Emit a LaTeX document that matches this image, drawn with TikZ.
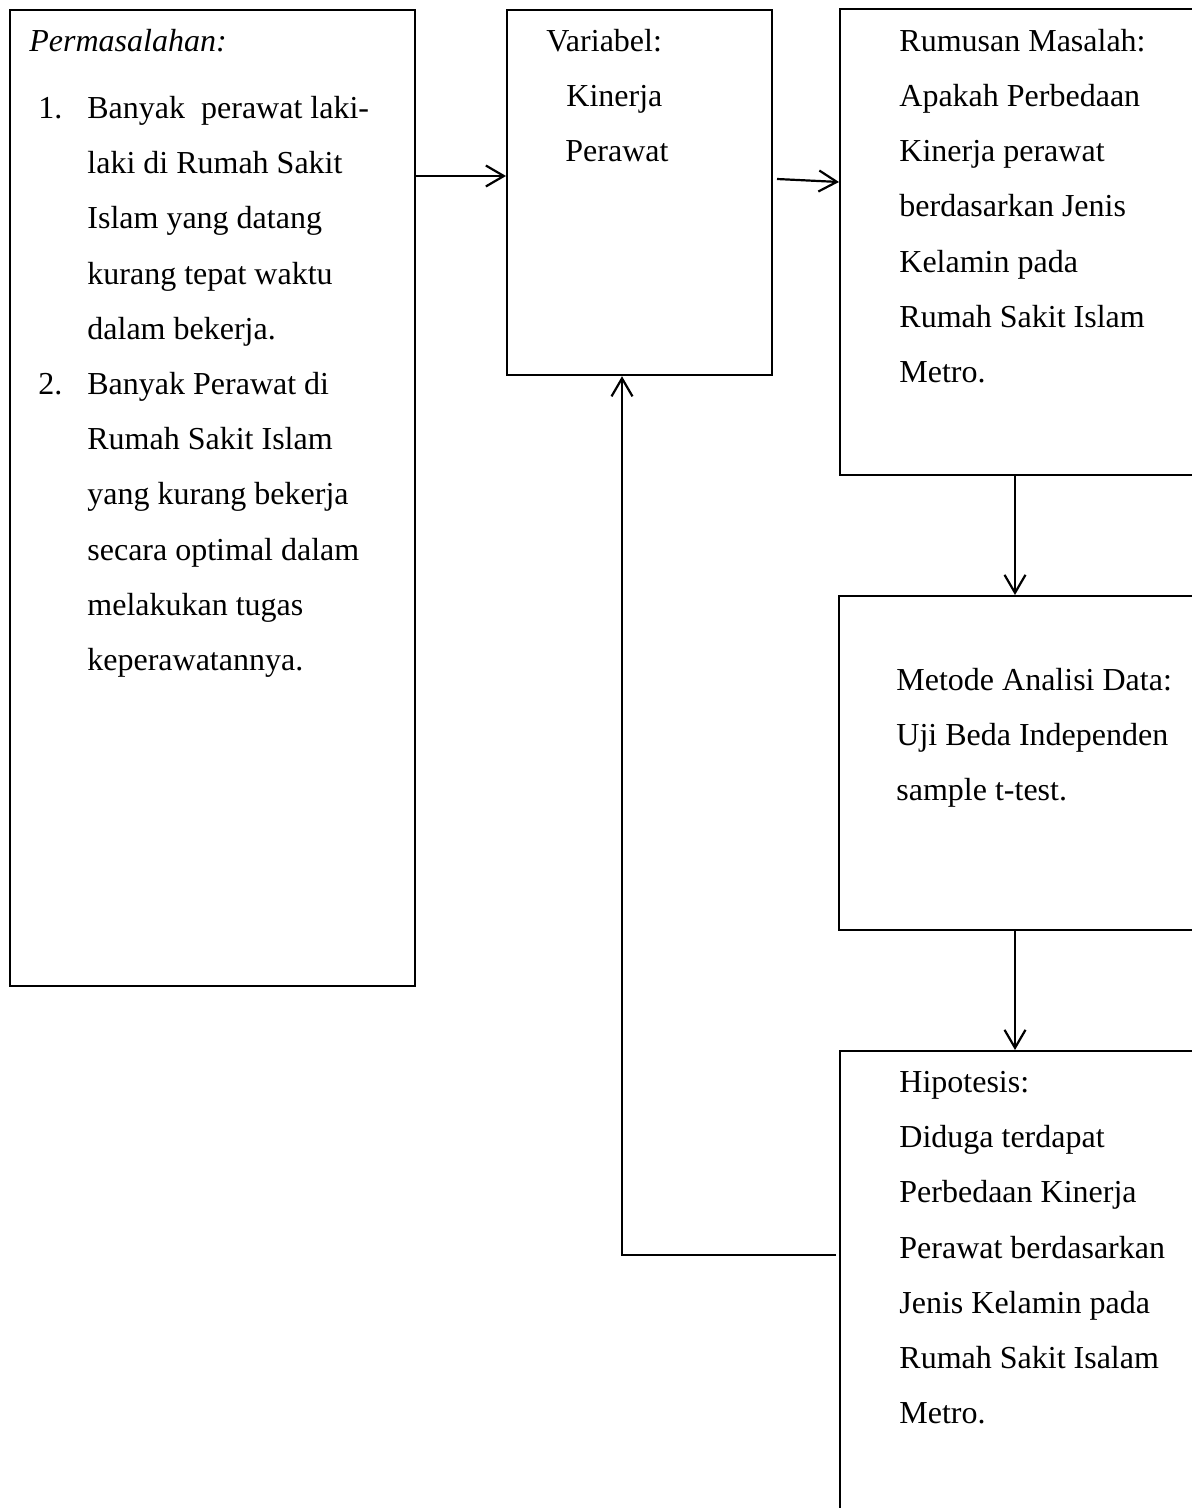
\documentclass[tikz,border=0pt]{standalone}
\usepackage{fontspec}
\setmainfont{Liberation Serif}
\usetikzlibrary{arrows.meta}
\begin{document}
\begin{tikzpicture}[x=0.5pt,y=-0.5pt,
  box/.style={draw,line width=1.1pt,rectangle,inner sep=0pt,anchor=north west},
  txt/.style={anchor=north west,inner sep=0pt,align=left,font=\fontsize{16pt}{27.6pt}\selectfont},
  arr/.style={line width=1.1pt,-{Straight Barb[length=9pt,width=10.5pt,line width=1.1pt]}}]
\useasboundingbox (0,0) rectangle (1192,1508);
\clip (0,0) rectangle (1192,1508);
% boxes
\node[box,minimum width=202.5pt,minimum height=488pt] (p) at (9,9) {};
\node[box,minimum width=132.5pt,minimum height=182.5pt] (v) at (506,9) {};
\node[box,minimum width=200pt,minimum height=233pt] (r) at (839,8) {};
\node[box,minimum width=200pt,minimum height=167pt] (m) at (838,595) {};
\node[box,minimum width=200pt,minimum height=300pt] (h) at (839,1050) {};
% texts
\node[txt] (pt) at (29,27) {\rule{0pt}{12pt}\textit{Permasalahan:}};
\node[txt] (n1) at (38,94) {\rule{0pt}{12pt}1.};
\node[txt] (n2) at (38,370) {\rule{0pt}{12pt}2.};
\node[txt] (pl) at (87,94) {\rule{0pt}{12pt}Banyak\ \ perawat laki-\\laki di Rumah Sakit\\Islam yang datang\\kurang tepat waktu\\dalam bekerja.\\Banyak Perawat di\\Rumah Sakit Islam\\yang kurang bekerja\\secara optimal dalam\\melakukan tugas\\keperawatannya.};
\node[txt] (vt) at (546,27) {\rule{0pt}{12pt}Variabel:\\\hspace*{10pt}Kinerja\\\hspace*{9.5pt}Perawat};
\node[txt] (rt) at (899,27) {\rule{0pt}{12pt}Rumusan Masalah:\\Apakah Perbedaan\\Kinerja perawat\\berdasarkan Jenis\\Kelamin pada\\Rumah Sakit Islam\\Metro.};
\node[txt] (mt) at (896,666) {\rule{0pt}{12pt}Metode Analisi Data:\\Uji Beda Independen\\sample t-test.};
\node[txt] (ht) at (899,1068) {\rule{0pt}{12pt}Hipotesis:\\Diduga terdapat\\Perbedaan Kinerja\\Perawat berdasarkan\\Jenis Kelamin pada\\Rumah Sakit Isalam\\Metro.};
% helper coordinates
\coordinate (a1) at (0,176);
\coordinate (a2s) at (777,179);
\coordinate (a2e) at (0,182);
\coordinate (cx) at (1015,0);
\coordinate (fb) at (836,1255);
\coordinate (fbx) at (622,0);
% connectors
\draw[arr] (p.east |- a1) -- (v.west |- a1);
\draw[arr] (a2s) -- (r.west |- a2e);
\draw[arr] (r.south -| cx) -- (m.north -| cx);
\draw[arr] (m.south -| cx) -- (h.north -| cx);
\draw[arr] (fb) -| (v.south -| fbx);
\end{tikzpicture}
\end{document}
